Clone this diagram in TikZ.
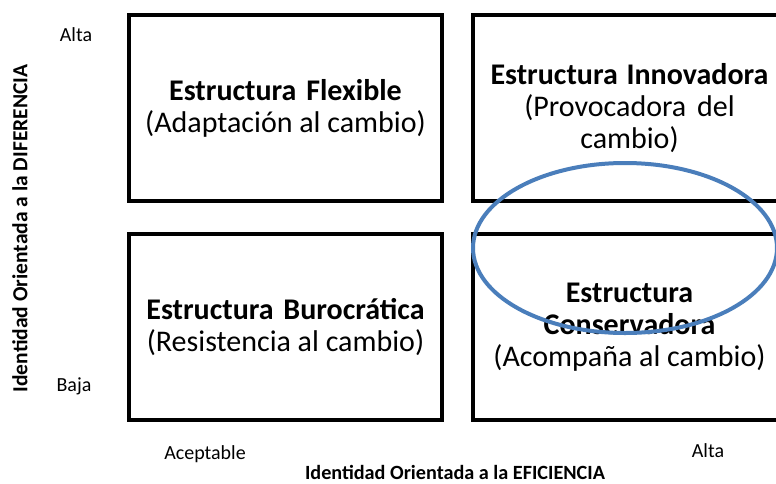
\documentclass[tikz,border=0pt]{standalone}
\usepackage{fontspec}
\setmainfont{Carlito}
\usetikzlibrary{positioning,shapes.geometric}
\definecolor{ovalblue}{RGB}{74,126,187}
\tikzset{
    % boxes of the matrix
    box/.style={
           rectangle,
           draw=black, line width=3.5pt,
           outer sep=0pt,
           minimum width=313pt,
           minimum height=186pt,
           align=center,
           font=\fontsize{30}{32}\selectfont},
    % labels on the axes
    tick/.style={
           font=\fontsize{20}{24}\selectfont},
    axis/.style={
           font=\fontsize{20.2}{24}\selectfont\bfseries},
    % highlight
    oval/.style={
           ellipse,
           draw=ovalblue, line width=4pt,
           minimum width=304pt,
           minimum height=170pt}
}
\begin{document}
\begin{tikzpicture}[x=1pt,y=1pt]
  \useasboundingbox (0,0) rectangle (776,-483);

  \node[box] (flexible) at (285.5,-108) {\textbf{Estructura\hspace{3pt} Flexible}\\(Adaptación al cambio)};
  \node[box, right=31pt of flexible] (innovadora) {\textbf{Estructura\hspace{2pt} Innovadora}\\(Provocadora\hspace{4pt} del\\cambio)};
  \node[box, below=33pt of flexible] (burocratica) {\textbf{Estructura\hspace{3pt} Burocrática}\\(Resistencia al cambio)};
  \node[box, below=33pt of innovadora] (conservadora) {\textbf{Estructura}\\\textbf{Conservadora}\\(Acompaña al cambio)};

  \node[oval] (foco) at (625,-248) {};

  \node[tick] (altay) at (76,-35) {Alta};
  \node[tick] (bajay) at (74,-386) {Baja};
  \node[tick] (aceptable) at (205,-454) {Aceptable};
  \node[tick] (altax) at (708,-451) {Alta};

  \node[axis, rotate=90, font=\fontsize{21.5}{24}\selectfont\bfseries] (diferencia) at (20,-228.5) {Identidad Orientada a la DIFERENCIA};
  \node[axis] (eficiencia) at (455,-472) {Identidad Orientada a la EFICIENCIA};
\end{tikzpicture}
\end{document}
